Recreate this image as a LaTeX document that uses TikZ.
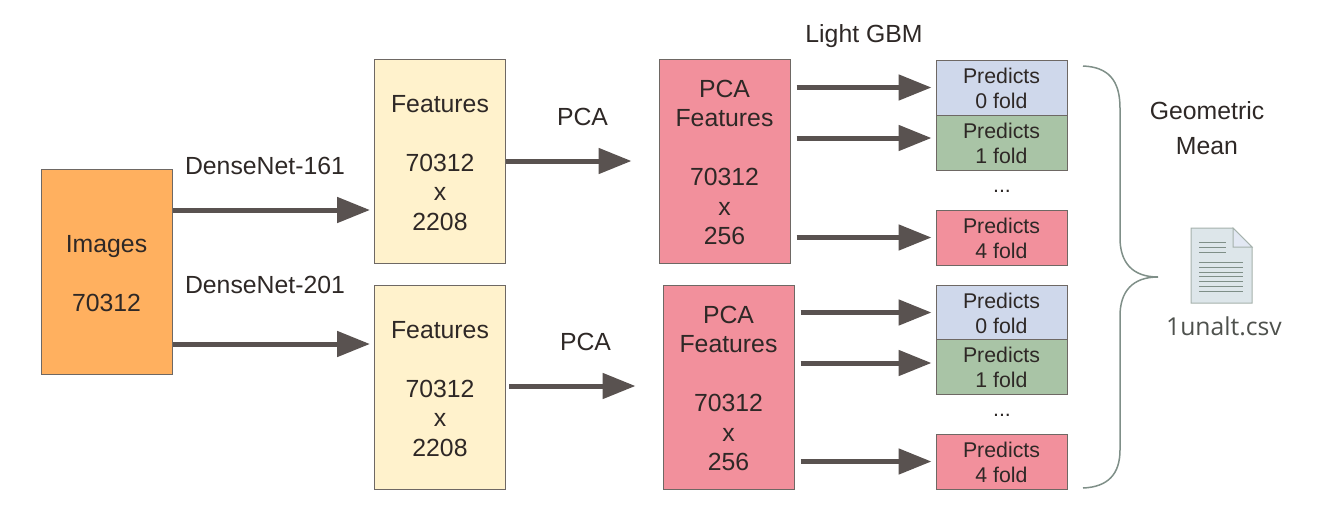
\documentclass[tikz,border=0pt]{standalone}
\usepackage{fontspec}
\setmainfont{Liberation Sans}
\newfontfamily\filefont{Open Sans}
\usetikzlibrary{arrows.meta}
\definecolor{inkgray}{HTML}{2E2826}
\definecolor{linegray}{HTML}{6E6864}
\definecolor{arrowgray}{HTML}{595250}
\definecolor{braceline}{HTML}{7F8F88}
\definecolor{imgorange}{HTML}{FFB05F}
\definecolor{featyellow}{HTML}{FFF2CC}
\definecolor{pcapink}{HTML}{F2909C}
\definecolor{foldblue}{HTML}{CFD8EB}
\definecolor{foldgreen}{HTML}{A9C4A6}
\definecolor{pagefill}{HTML}{DDE6EA}
\def\bigtop{\rule{0pt}{20.5pt}}
\def\foldtop{\rule{0pt}{17pt}}
\tikzset{
    bigbox/.style={draw=linegray, line width=1pt, minimum width=131pt, inner sep=0pt, align=center, text=inkgray,
        font=\fontsize{24.8}{29.5}\selectfont},
    foldbox/.style={draw=linegray, line width=1pt, minimum width=131pt, minimum height=55pt, inner sep=0pt, align=center,
        text=inkgray, font=\fontsize{21.3}{25}\selectfont},
    lbl/.style={text=inkgray, inner sep=0pt, align=center, font=\fontsize{24.8}{29.5}\selectfont},
    flow/.style={draw=arrowgray, line width=5pt, -{Triangle[length=33pt,width=25pt,fill=arrowgray]}, shorten >=4pt},
}
\begin{document}
\begin{tikzpicture}[x=1pt,y=-1pt]
        \useasboundingbox (0,0) rectangle (1342,528);

        \node[bigbox, fill=imgorange, minimum width=131pt, minimum height=205pt] (images) at (106.5,271.5) {\bigtop Images\\~\\70312};

        \node[bigbox, fill=featyellow, minimum height=204pt] (featA) at (440,161) {\bigtop Features\\~\\70312\\x\\2208};
        \node[bigbox, fill=featyellow, minimum height=204pt] (featB) at (440,387) {\bigtop Features\\~\\70312\\x\\2208};
        \node[bigbox, fill=pcapink, minimum height=204pt] (pcaA) at (724.5,161) {\bigtop PCA\\Features\\~\\70312\\x\\256};
        \node[bigbox, fill=pcapink, minimum height=204pt] (pcaB) at (728.5,387) {\bigtop PCA\\Features\\~\\70312\\x\\256};

        \node[foldbox, fill=foldblue] (foldAa) at (1001.5,87.5) {\foldtop Predicts\\0 fold};
        \node[foldbox, fill=foldgreen] (foldAb) at (1001.5,142.5) {\foldtop Predicts\\1 fold};
        \node[foldbox, fill=pcapink] (foldAe) at (1001.5,237.5) {\foldtop Predicts\\4 fold};
        \node[foldbox, fill=foldblue] (foldBa) at (1001.5,312.5) {\foldtop Predicts\\0 fold};
        \node[foldbox, fill=foldgreen] (foldBb) at (1001.5,367) {\foldtop Predicts\\1 fold};
        \node[foldbox, fill=pcapink] (foldBe) at (1001.5,461.5) {\foldtop Predicts\\4 fold};
        \node[lbl, font=\fontsize{21.3}{25}\selectfont] (dotsA) at (1002,191) {...};
        \node[lbl, font=\fontsize{21.3}{25}\selectfont] (dotsB) at (1002,415) {...};

        \node[lbl] (netA) at (265,166) {DenseNet-161};
        \node[lbl] (netB) at (265,285) {DenseNet-201};
        \node[lbl] (pcaLblA) at (582.5,117) {PCA};
        \node[lbl] (pcaLblB) at (585.5,342) {PCA};
        \node[lbl] (gbm) at (864,36) {Light GBM};
        \node[lbl, font=\fontsize{24.8}{35}\selectfont] (geomean) at (1207,128) {Geometric\\Mean};

        \draw[flow] ([yshift=61.5pt]images.east) -- ([yshift=-49pt]featA.west);
        \draw[flow] ([yshift=-72.5pt]images.east) -- ([yshift=43pt]featB.west);
        \draw[flow] (featA.east) -- ([xshift=-23pt]pcaA.west);
        \draw[flow] ([xshift=3pt,yshift=1pt]featB.east) -- ([xshift=-23pt,yshift=1pt]pcaB.west);

        \draw[flow] ([xshift=6pt,yshift=73.5pt]pcaA.east) -- (foldAa.west);
        \draw[flow] ([xshift=6pt,yshift=23pt]pcaA.east) -- ([yshift=4.5pt]foldAb.west);
        \draw[flow] ([xshift=6pt,yshift=-76.5pt]pcaA.east) -- (foldAe.west);
        \draw[flow] ([xshift=6pt,yshift=74.5pt]pcaB.east) -- (foldBa.west);
        \draw[flow] ([xshift=6pt,yshift=24pt]pcaB.east) -- ([yshift=4pt]foldBb.west);
        \draw[flow] ([xshift=6pt,yshift=-74.5pt]pcaB.east) -- (foldBe.west);

        % brace
        \draw[braceline, line width=1.5pt] (1083,66) .. controls (1108,67) and (1120,80) .. (1120,108)
            -- (1120,238) .. controls (1120,262) and (1132,277) .. (1158,277)
            .. controls (1132,277) and (1120,292) .. (1120,316)
            -- (1120,450) .. controls (1120,474) and (1108,487) .. (1083,488);

        % file icon
        \fill[pagefill, draw=braceline!70, line width=1pt] (1191,228) -- (1233,228) -- (1252,247) -- (1252,303) -- (1191,303) -- cycle;
        \fill[foldblue!60!white, draw=braceline!70, line width=1pt] (1233,228) -- (1233,247) -- (1252,247) -- cycle;
        \foreach \y in {242,247,252} \draw[braceline, line width=1pt] (1199,\y) -- (1226,\y);
        \foreach \y in {262,267,272,276,281,286,291} \draw[braceline, line width=1pt] (1199,\y) -- (1243,\y);
        \node[text=braceline!40!inkgray, inner sep=0pt, font=\filefont\fontsize{24.7}{28}\selectfont] (csv) at (1224,326) {1unalt.csv};
    \end{tikzpicture}
\end{document}
